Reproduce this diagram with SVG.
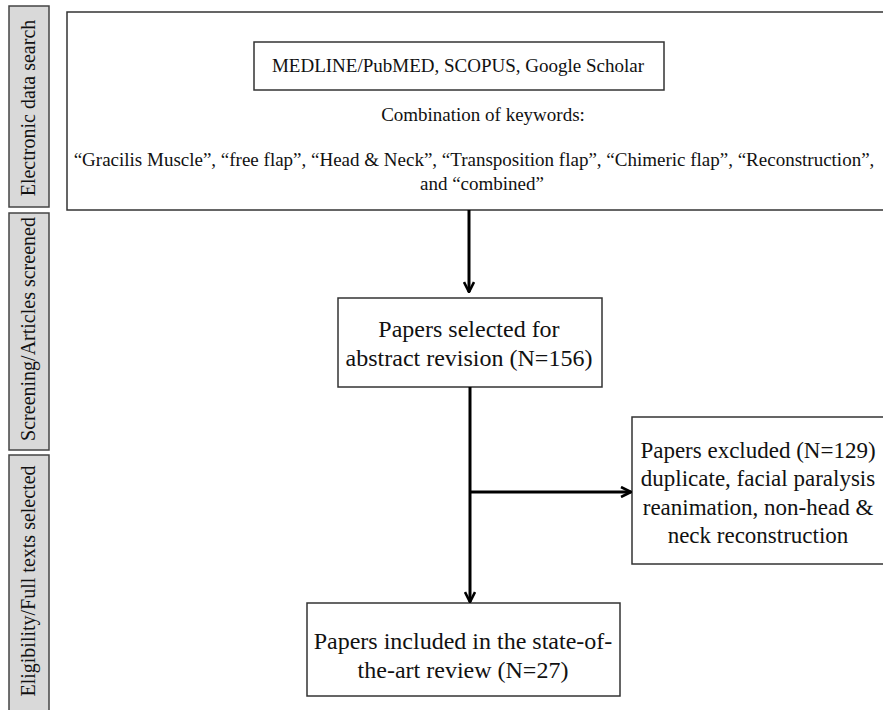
<svg xmlns="http://www.w3.org/2000/svg" width="883" height="710" viewBox="0 0 883 710">
<defs>
<style>
text{font-family:"Liberation Serif","Times New Roman",serif;fill:#111;text-anchor:middle}
.lab{fill:#d9d9d9;stroke:#444;stroke-width:1.5}
.box{fill:#fff;stroke:#333;stroke-width:1.5}
.lt{font-size:20px}
.sm{font-size:19px}
.big{font-size:24px}
.ex{font-size:23px}
.conn{stroke:#000;stroke-width:3;fill:none}
</style>
<marker id="ah" viewBox="0 0 12 12" refX="11" refY="6" markerWidth="12" markerHeight="12" markerUnits="userSpaceOnUse" orient="auto">
<path d="M1,1 L11,6 L1,11" fill="none" stroke="#000" stroke-width="2.6"/>
</marker>
</defs>
<rect width="883" height="710" fill="#fff"/>
<g id="label-electronic">
<rect class="lab" x="9" y="6" width="40" height="201"/>
<text class="lt" transform="translate(35,108) rotate(-90)">Electronic data search</text>
</g>
<g id="label-screening">
<rect class="lab" x="9" y="213" width="40" height="237"/>
<text class="lt" transform="translate(35,329) rotate(-90)">Screening/Articles screened</text>
</g>
<g id="label-eligibility">
<rect class="lab" x="9" y="455" width="40" height="260"/>
<text class="lt" transform="translate(35,581) rotate(-90)">Eligibility/Full texts selected</text>
</g>
<g id="search">
<rect class="box" x="67" y="12" width="820" height="198"/>
<rect class="box" x="254" y="42" width="410" height="48"/>
<text class="sm" x="458" y="72">MEDLINE/PubMED, SCOPUS, Google Scholar</text>
<text class="sm" x="483" y="121">Combination of keywords:</text>
<text class="sm" x="474" y="166">“Gracilis Muscle”, “free flap”, “Head &amp; Neck”, “Transposition flap”, “Chimeric flap”, “Reconstruction”,</text>
<text class="sm" x="482" y="190">and “combined”</text>
</g>
<g id="selected">
<rect class="box" x="338" y="298" width="264" height="89"/>
<text class="big" x="469" y="337">Papers selected for</text>
<text class="big" x="469" y="366">abstract revision (N=156)</text>
</g>
<g id="excluded">
<rect class="box" x="632" y="417" width="260" height="147"/>
<text class="ex" x="758" y="458">Papers excluded (N=129)</text>
<text class="ex" x="758" y="486">duplicate, facial paralysis</text>
<text class="ex" x="758" y="515">reanimation, non-head &amp;</text>
<text class="ex" x="758" y="543">neck reconstruction</text>
</g>
<g id="included">
<rect class="box" x="307" y="603" width="313" height="93"/>
<text class="big" x="463" y="649">Papers included in the state-of-</text>
<text class="big" x="463" y="678">the-art review (N=27)</text>
</g>
<g id="connectors">
<line class="conn" x1="469" y1="210" x2="469" y2="292" marker-end="url(#ah)"/>
<line class="conn" x1="470" y1="387" x2="470" y2="602" marker-end="url(#ah)"/>
<line class="conn" x1="470" y1="492" x2="631" y2="492" marker-end="url(#ah)"/>
</g>
</svg>
